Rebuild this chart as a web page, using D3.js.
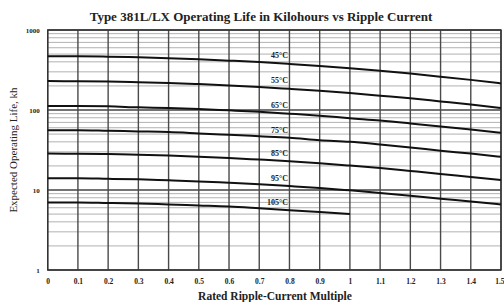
<!DOCTYPE html>
<html><head><meta charset="utf-8">
<script src="https://cdn.jsdelivr.net/npm/d3@7"></script>
<style>body{margin:0;background:#fff}svg{display:block}text{font-family:"Liberation Serif","Times New Roman",serif;font-weight:bold;fill:#222}</style>
</head><body><svg id="c" width="504" height="302"></svg>
<script>
const xValues = [0,0.1,0.2,0.3,0.4,0.5,0.6,0.7,0.8,0.9,1.0,1.1,1.2,1.3,1.4,1.5];
const xTickLabels = ["0","0.1","0.2","0.3","0.4","0.5","0.6","0.7","0.8","0.9","1","1.1","1.2","1.3","1.4","1.5"];
const yTickValues = [1,10,100,1000];
const seriesNames = ["45°C","55°C","65°C","75°C","85°C","95°C","105°C"];
const life45  = [470,469,464,455,445,431,414,397,377,356,333,309,285,261,238,215];
const life55  = [230,229,227,223,218,211,203,194,184,174,163,151,140,128,117,106];
const life65  = [112,112,111,108,106,103,99,95,90,85,79,74,68,62,57,52];
const life75  = [56,56,55,54,53,51,49,47,45,42,40,37,34,31,28.5,26];
const life85  = [28.5,28.4,28.1,27.6,27,26.1,25.1,24,22.9,21.6,20.2,18.8,17.3,15.9,14.5,13.3];
const life95  = [14,14,13.8,13.6,13.2,12.8,12.3,11.8,11.2,10.6,9.9,9.2,8.5,7.8,7.2,6.6];
const life105 = [7,7,6.9,6.8,6.6,6.4,6.2,5.9,5.6,5.3,5.0];
const series = [life45,life55,life65,life75,life85,life95,life105];

const svg = d3.select("#c");
const pL=47.7, pR=501, pT=30, pB=270;
const x = d3.scaleLinear().domain([0,1.5]).range([pL,pR]);
const y = d3.scaleLog().domain([1,1000]).range([pB,pT]);

// minor horizontal grid
const minor=[];
for (let d=1; d<1000; d*=10) for (let k=2;k<=9;k++) minor.push(d*k);
svg.append("g").selectAll("line").data(minor).join("line")
  .attr("x1",pL).attr("x2",pR).attr("y1",d=>y(d)).attr("y2",d=>y(d))
  .attr("stroke","#a8a8a8").attr("stroke-width",0.9);
svg.append("g").selectAll("line").data(yTickValues).join("line")
  .attr("x1",pL).attr("x2",pR).attr("y1",d=>y(d)).attr("y2",d=>y(d))
  .attr("stroke","#444").attr("stroke-width",1.3);
// vertical grid
svg.append("g").selectAll("line").data(xValues).join("line")
  .attr("x1",d=>x(d)).attr("x2",d=>x(d)).attr("y1",pT).attr("y2",pB)
  .attr("stroke","#4a4a4a").attr("stroke-width",1.4);
// frame
svg.append("rect").attr("x",pL).attr("y",pT).attr("width",pR-pL).attr("height",pB-pT)
  .attr("fill","none").attr("stroke","#333").attr("stroke-width",1.4);

// axes
const xAxis = d3.axisBottom(x).tickValues(xValues).tickFormat((d,i)=>xTickLabels[i]).tickSize(0).tickPadding(9);
const gx = svg.append("g").attr("transform",`translate(0,${pB})`).call(xAxis);
gx.select(".domain").remove();
gx.selectAll("text").style("font-size","7.5px").style("font-family",'"Liberation Serif",serif').style("font-weight","bold").attr("fill","#222");
gx.selectAll(".tick").filter(d=>d===1.5).select("text").attr("text-anchor","end").attr("dx","3");
const yAxis = d3.axisLeft(y).tickValues(yTickValues).tickFormat(d3.format("d")).tickSize(0).tickPadding(8);
const gy = svg.append("g").attr("transform",`translate(${pL},0)`).call(yAxis);
gy.select(".domain").remove();
gy.selectAll("text").style("font-size","7px").style("font-family",'"Liberation Serif",serif').style("font-weight","bold").attr("fill","#222");

// curves
const line = d3.line().x((d,i)=>x(xValues[i])).y(d=>y(d)).curve(d3.curveMonotoneX);
svg.append("g").selectAll("path").data(series).join("path")
  .attr("d",line).attr("fill","none").attr("stroke","#111").attr("stroke-width",2);

// labels
const lab = svg.append("g");
series.forEach((s,i)=>{
  const v = s[7]*0.99;
  lab.append("text").attr("x",288).attr("y",y(v)-4).attr("text-anchor","end")
    .style("font-size","8px").text(seriesNames[i]);
});

// titles
svg.append("text").attr("x",261).attr("y",21).attr("text-anchor","middle")
  .style("font-size","13px").text("Type 381L/LX Operating Life in Kilohours vs Ripple Current");
svg.append("text").attr("x",275).attr("y",300).attr("text-anchor","middle")
  .style("font-size","11.5px").text("Rated Ripple-Current Multiple");
svg.append("text").attr("transform","translate(17,150) rotate(-90)").attr("text-anchor","middle")
  .style("font-size","11px").style("font-weight","normal").text("Expected Operating Life, kh");
</script></body></html>
